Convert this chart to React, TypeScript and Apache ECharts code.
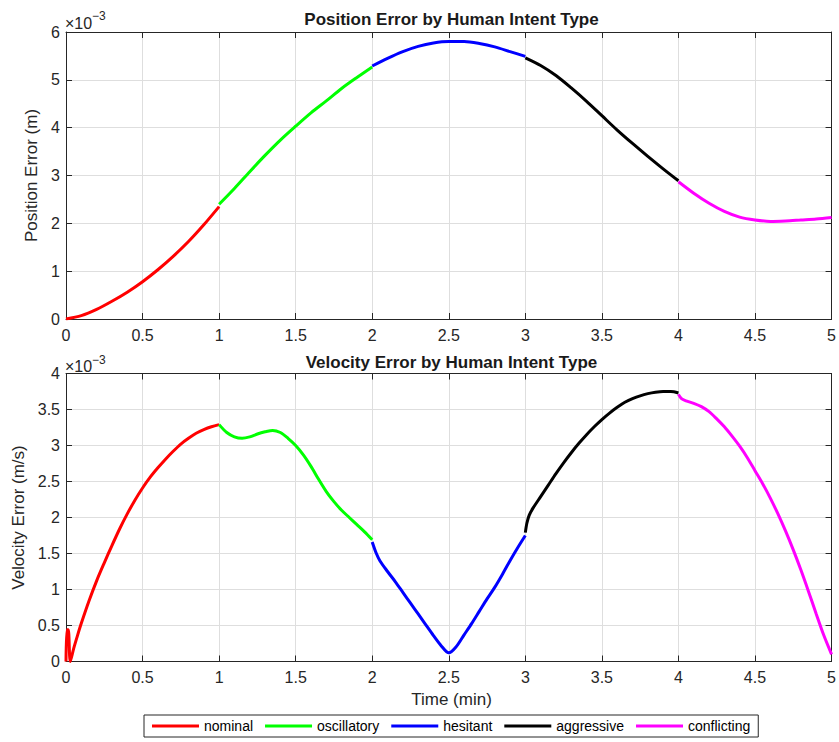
import React, { useEffect, useRef } from "react";
import * as echarts from "echarts";

// Time (min) vs error (units of 1e-3)
const intentNames = ["nominal", "oscillatory", "hesitant", "aggressive", "conflicting"];
const intentColors = ["#ff0000", "#00ff00", "#0000ff", "#000000", "#ff00ff"];

const posNominal = [[0, 0], [0.1, 0.07], [0.2, 0.2], [0.3, 0.37], [0.4, 0.56], [0.5, 0.78], [0.6, 1.03], [0.7, 1.31], [0.8, 1.62], [0.9, 1.97], [1.0, 2.35]];
const posOscillatory = [[1.0, 2.4], [1.1, 2.73], [1.2, 3.08], [1.3, 3.42], [1.4, 3.74], [1.5, 4.03], [1.6, 4.31], [1.7, 4.56], [1.8, 4.82], [1.9, 5.05], [2.0, 5.27]];
const posHesitant = [[2.0, 5.29], [2.1, 5.45], [2.2, 5.59], [2.3, 5.7], [2.4, 5.77], [2.5, 5.8], [2.6, 5.8], [2.7, 5.76], [2.8, 5.69], [2.9, 5.59], [3.0, 5.49]];
const posAggressive = [[3.0, 5.46], [3.1, 5.3], [3.2, 5.09], [3.3, 4.83], [3.4, 4.55], [3.5, 4.25], [3.6, 3.95], [3.7, 3.67], [3.8, 3.4], [3.9, 3.14], [4.0, 2.89]];
const posConflicting = [[4.0, 2.87], [4.1, 2.63], [4.2, 2.42], [4.3, 2.25], [4.4, 2.13], [4.5, 2.07], [4.6, 2.04], [4.7, 2.05], [4.8, 2.07], [4.9, 2.09], [5.0, 2.12]];

const velNominal = [[0, 0], [0.006, 0.44], [0.015, 0.44], [0.028, 0], [0.05, 0.18], [0.075, 0.36], [0.1, 0.53], [0.15, 0.84], [0.2, 1.12], [0.25, 1.37], [0.3, 1.61], [0.35, 1.84], [0.4, 2.05], [0.45, 2.24], [0.5, 2.41], [0.55, 2.56], [0.6, 2.69], [0.65, 2.81], [0.7, 2.92], [0.75, 3.02], [0.8, 3.1], [0.85, 3.17], [0.9, 3.22], [0.95, 3.26], [1.0, 3.29]];
const velOscillatory = [[1.0, 3.29], [1.05, 3.18], [1.1, 3.12], [1.15, 3.1], [1.2, 3.12], [1.25, 3.16], [1.3, 3.19], [1.35, 3.21], [1.4, 3.18], [1.45, 3.1], [1.5, 3.0], [1.55, 2.87], [1.6, 2.71], [1.65, 2.53], [1.7, 2.36], [1.75, 2.22], [1.8, 2.1], [1.85, 2.0], [1.9, 1.9], [1.95, 1.8], [2.0, 1.69]];
const velHesitant = [[2.0, 1.66], [2.025, 1.51], [2.05, 1.4], [2.1, 1.25], [2.15, 1.11], [2.2, 0.96], [2.25, 0.81], [2.3, 0.66], [2.35, 0.51], [2.4, 0.36], [2.45, 0.22], [2.5, 0.12], [2.55, 0.21], [2.6, 0.37], [2.65, 0.53], [2.7, 0.7], [2.75, 0.87], [2.8, 1.03], [2.85, 1.21], [2.9, 1.4], [2.95, 1.58], [3.0, 1.75]];
const velAggressive = [[3.0, 1.79], [3.01, 1.92], [3.025, 2.03], [3.05, 2.13], [3.1, 2.29], [3.15, 2.45], [3.2, 2.61], [3.25, 2.76], [3.3, 2.9], [3.35, 3.03], [3.4, 3.15], [3.45, 3.26], [3.5, 3.36], [3.55, 3.45], [3.6, 3.53], [3.65, 3.6], [3.7, 3.65], [3.75, 3.69], [3.8, 3.72], [3.85, 3.74], [3.9, 3.75], [3.95, 3.75], [4.0, 3.73]];
const velConflicting = [[4.0, 3.71], [4.02, 3.65], [4.05, 3.62], [4.1, 3.585], [4.15, 3.54], [4.2, 3.47], [4.25, 3.37], [4.3, 3.26], [4.35, 3.13], [4.4, 2.99], [4.45, 2.83], [4.5, 2.65], [4.55, 2.47], [4.6, 2.27], [4.65, 2.05], [4.7, 1.81], [4.75, 1.55], [4.8, 1.27], [4.85, 0.97], [4.9, 0.66], [4.95, 0.36], [5.0, 0.1]];

const posSegments = [posNominal, posOscillatory, posHesitant, posAggressive, posConflicting];
const velSegments = [velNominal, velOscillatory, velHesitant, velAggressive, velConflicting];

const xTickStep = 0.5;
const posYMax = 6;
const posYStep = 1;
const velYMax = 4;
const velYStep = 0.5;

const FONT = "Liberation Sans, Arial, Helvetica, sans-serif";
const AX = "#262626";
const GRIDC = "#dedede";

export default function App() {
  const ref = useRef<HTMLDivElement>(null);
  useEffect(() => {
    if (!ref.current) return;
    const chart = echarts.init(ref.current, undefined, { renderer: "svg" });

    const grids = [
      { left: 66, top: 32, width: 771, height: 287, show: false },
      { left: 66, top: 373.5, width: 771, height: 288, show: false },
    ];

    const mkX = (gi: number, pos: "bottom" | "top") => ({
      type: "value",
      gridIndex: gi,
      position: pos,
      min: 0,
      max: 5,
      interval: xTickStep,
      axisLine: { show: true, onZero: false, lineStyle: { color: AX, width: 1 } },
      axisTick: { show: true, inside: true, length: 6, lineStyle: { color: AX } },
      axisLabel: pos === "bottom"
        ? { show: true, color: AX, fontSize: 16, fontFamily: FONT, margin: 8, showMaxLabel: true, showMinLabel: true }
        : { show: false },
      splitLine: pos === "bottom" ? { show: true, lineStyle: { color: GRIDC, width: 1 } } : { show: false },
    });
    const mkY = (gi: number, pos: "left" | "right", max: number, step: number, name: string, gap: number) => ({
      type: "value",
      gridIndex: gi,
      position: pos,
      min: 0,
      max,
      interval: step,
      name: pos === "left" ? name : "",
      nameLocation: "middle",
      nameGap: gap,
      nameRotate: 90,
      nameTextStyle: { color: AX, fontSize: 17, fontFamily: FONT },
      axisLine: { show: true, onZero: false, lineStyle: { color: AX, width: 1 } },
      axisTick: { show: true, inside: true, length: 6, lineStyle: { color: AX } },
      axisLabel: pos === "left"
        ? { show: true, color: AX, fontSize: 16, fontFamily: FONT, margin: 6 }
        : { show: false },
      splitLine: pos === "left" ? { show: true, lineStyle: { color: GRIDC, width: 1 } } : { show: false },
    });

    const series: any[] = [];
    posSegments.forEach((seg, i) => {
      series.push({
        type: "line", name: intentNames[i], xAxisIndex: 0, yAxisIndex: 0,
        data: seg, showSymbol: false, smooth: 0.3,
        lineStyle: { color: intentColors[i], width: 3 }, itemStyle: { color: intentColors[i] },
        z: 3,
      });
    });
    velSegments.forEach((seg, i) => {
      series.push({
        type: "line", name: intentNames[i], xAxisIndex: 2, yAxisIndex: 2,
        data: seg, showSymbol: false, smooth: 0.3,
        lineStyle: { color: intentColors[i], width: 3 }, itemStyle: { color: intentColors[i] },
        z: 3,
      });
    });

    const titleStyle = { fill: "#1a1a1a", font: `bold 17px ${FONT}`, textAlign: "center", textVerticalAlign: "middle" };

    chart.setOption({
      animation: false,
      backgroundColor: "#ffffff",
      grid: grids,
      xAxis: [mkX(0, "bottom"), mkX(0, "top"), mkX(1, "bottom"), mkX(1, "top")],
      yAxis: [
        mkY(0, "left", posYMax, posYStep, "Position Error (m)", 22),
        mkY(0, "right", posYMax, posYStep, "", 0),
        mkY(1, "left", velYMax, velYStep, "Velocity Error (m/s)", 34),
        mkY(1, "right", velYMax, velYStep, "", 0),
      ],
      legend: {
        data: intentNames,
        left: 144,
        top: 715,
        orient: "horizontal",
        icon: "rect",
        itemWidth: 47,
        itemHeight: 3,
        itemGap: 12,
        padding: [4, 8, 4, 8],
        borderColor: AX,
        borderWidth: 1,
        backgroundColor: "#ffffff",
        textStyle: { color: "#000", fontSize: 14, fontFamily: FONT },
      },
      graphic: [
        { type: "text", x: 451.5, y: 19.5, style: { ...titleStyle, text: "Position Error by Human Intent Type" } },
        { type: "text", x: 451.5, y: 362.5, style: { ...titleStyle, text: "Velocity Error by Human Intent Type" } },
        { type: "text", x: 65, y: 23, style: { text: "×10", fill: AX, font: `16px ${FONT}`, textVerticalAlign: "middle" } },
        { type: "text", x: 92, y: 16, style: { text: "−3", fill: AX, font: `12px ${FONT}`, textVerticalAlign: "middle" } },
        { type: "text", x: 65, y: 366.5, style: { text: "×10", fill: AX, font: `16px ${FONT}`, textVerticalAlign: "middle" } },
        { type: "text", x: 92, y: 359.5, style: { text: "−3", fill: AX, font: `12px ${FONT}`, textVerticalAlign: "middle" } },
        { type: "text", x: 451.5, y: 699, style: { text: "Time (min)", fill: AX, font: `17px ${FONT}`, textAlign: "center", textVerticalAlign: "middle" } },
      ],
      series,
    });
    return () => chart.dispose();
  }, []);
  return <div ref={ref} style={{ position: "fixed", left: 0, top: 0, width: 839, height: 742 }} />;
}
